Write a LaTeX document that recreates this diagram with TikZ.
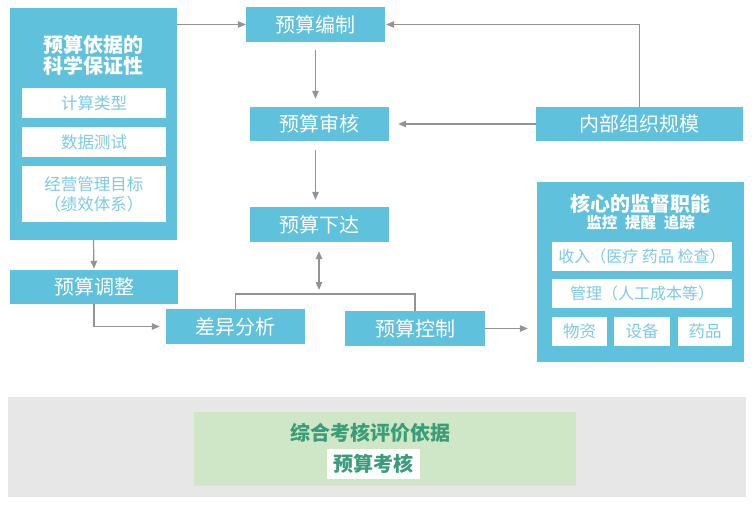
\documentclass[tikz,border=0pt]{standalone}
\usepackage{fontspec}
\setmainfont{Noto Sans CJK SC}
\usepackage{xcolor}
\usepackage{tikz}
\usetikzlibrary{positioning,arrows.meta}
\definecolor{boxblue}{HTML}{60C1DD}
\definecolor{subtext}{HTML}{7CCBE3}
\definecolor{linegray}{HTML}{939393}
\definecolor{bandgray}{HTML}{E7E7E7}
\definecolor{evalgreen}{HTML}{CFE7C7}
\definecolor{evaltext}{HTML}{3A9C78}
\tikzset{
  bluebox/.style={fill=boxblue, text=white, inner sep=0pt, font=\fontsize{20}{22}\selectfont},
  subbox/.style={fill=white, text=subtext, inner sep=0pt, align=center, font=\fontsize{16.5}{20}\selectfont},
  arr/.style={draw=linegray, line width=1.2pt, -{Triangle[length=8pt,width=6.5pt]}},
  link/.style={draw=linegray, line width=1.2pt},
}
\begin{document}
\begin{tikzpicture}[x=1pt,y=-1pt]
\useasboundingbox (0,0) rectangle (756,511);

\node[bluebox, minimum width=167pt, minimum height=232pt] (basis) at (93.5,124) {};
\node[text=white, align=center, font=\fontsize{20}{21}\selectfont\bfseries] (basistitle) at (93.5,55) {预算依据的\\科学保证性};
\node[subbox, minimum width=144pt, minimum height=30pt] (calc) at (94,103) {计算类型};
\node[subbox, minimum width=144pt, minimum height=30pt] (data) at (94,142) {数据测试};
\node[subbox, minimum width=144pt, minimum height=56pt] (goal) at (94,194) {经营管理目标\\（绩效体系）};

\node[bluebox, minimum width=139pt, minimum height=35pt] (compile) at (315.5,24.5) {预算编制};
\node[bluebox, minimum width=139pt, minimum height=34pt] (review) at (319.5,124) {预算审核};
\node[bluebox, minimum width=139pt, minimum height=35pt] (issue) at (319.5,224.5) {预算下达};
\node[bluebox, minimum width=207pt, minimum height=34pt] (scale) at (639.5,124) {内部组织规模};

\node[bluebox, minimum width=168pt, minimum height=34pt] (adjust) at (94,287) {预算调整};
\node[bluebox, minimum width=139pt, minimum height=35pt] (diff) at (235.5,326.5) {差异分析};
\node[bluebox, minimum width=140pt, minimum height=35pt] (control) at (415,328.5) {预算控制};

\node[bluebox, minimum width=207pt, minimum height=180pt] (supervise) at (640.5,272) {};
\node[text=white, align=center, font=\bfseries] (suptitle) at (640.5,212)
  {{\fontsize{20}{22}\selectfont 核心的监督职能}\\{\fontsize{15.5}{19}\selectfont 监控\enspace 提醒\enspace 追踪}};
\node[subbox, minimum width=180pt, minimum height=29pt, font=\fontsize{16}{20}\selectfont] (income) at (642,256.5) {收入（医疗 药品 检查）};
\node[subbox, minimum width=180pt, minimum height=29pt, font=\fontsize{16}{20}\selectfont] (manage) at (642,293.5) {管理（人工成本等）};
\node[subbox, minimum width=55pt, minimum height=29pt] (goods) at (579.5,331.5) {物资};
\node[subbox, minimum width=56pt, minimum height=29pt] (equip) at (642,331.5) {设备};
\node[subbox, minimum width=54pt, minimum height=29pt] (drugs) at (705,331.5) {药品};

\fill[bandgray] (8,397) rectangle (746,497);
\node[fill=evalgreen, minimum width=382pt, minimum height=74pt, inner sep=0pt] (eval) at (385,449) {};
\node[text=evaltext, font=\fontsize{20}{22}\selectfont\bfseries] (evaltitle) at (370,433) {综合考核评价依据};
\node[fill=white, text=evaltext, minimum width=93pt, minimum height=30pt, inner sep=0pt,
  font=\fontsize{20}{22}\selectfont\bfseries] (assess) at (373.5,464) {预算考核};

\coordinate (fork) at (319,294);

\draw[arr] (basis.east |- compile.west) -- (compile.west);
\draw[arr, shorten <=8pt, shorten >=8pt] (compile.south) -- (compile.south |- review.north);
\draw[arr, shorten <=9pt, shorten >=7pt] (compile.south |- review.south) -- (compile.south |- issue.north);
\draw[arr, shorten >=1pt] (scale.north) |- (compile.east);
\draw[arr, shorten >=9pt] (scale.west) -- (review.east);
\draw[arr, shorten >=1pt] (basis.south) -- (adjust.north);
\draw[arr, shorten >=6pt] (adjust.south) |- (diff.west);
\draw[link] (diff.north) |- (fork) -| (control.north);
\draw[arr, {Triangle[length=8pt,width=6.5pt]}-{Triangle[length=8pt,width=6.5pt]}, shorten <=4pt, shorten >=9pt] (fork) -- (fork |- issue.south);
\draw[arr, shorten >=9pt] (control.east) -- (control.east -| supervise.west);

\end{tikzpicture}
\end{document}
